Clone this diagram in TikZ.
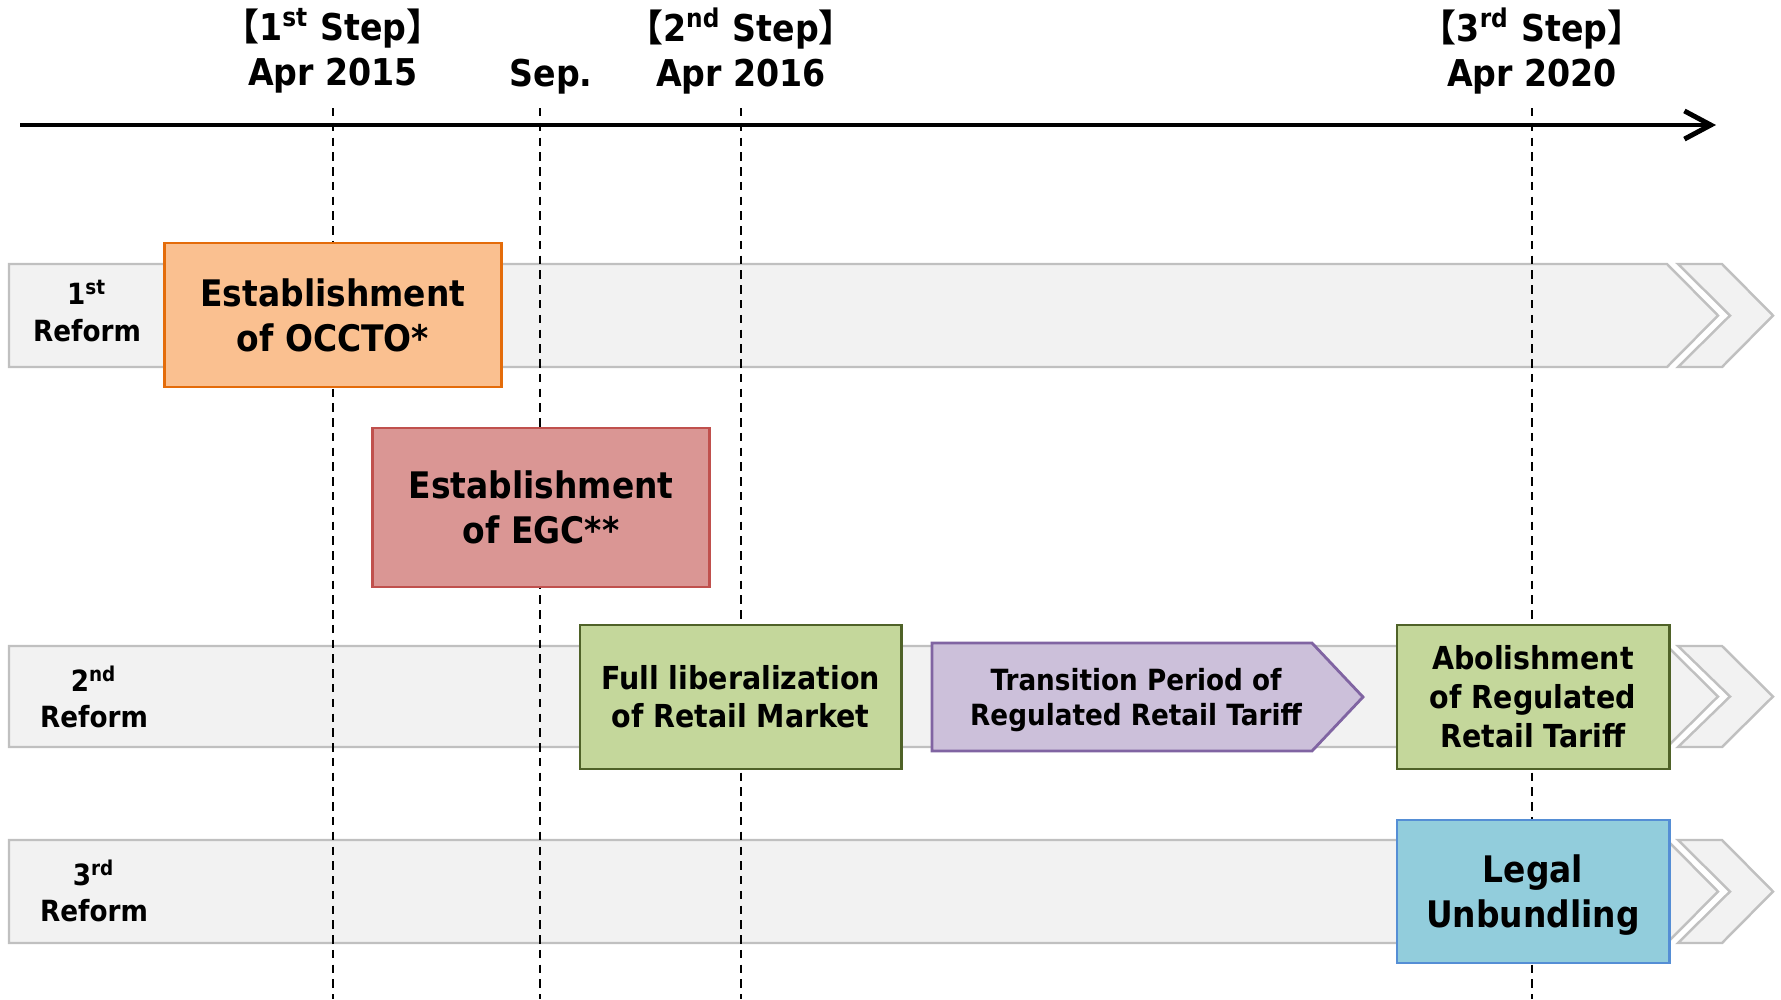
\documentclass[tikz,border=0pt]{standalone}
\usepackage{fontspec}
\setmainfont{DejaVu Sans}[FakeStretch=0.9]
\newfontfamily\cjk{Noto Sans CJK JP}
\usetikzlibrary{arrows.meta}
\definecolor{bandfill}{HTML}{F2F2F2}
\definecolor{banddraw}{HTML}{C0C0C0}
\definecolor{occtofill}{HTML}{FAC090}
\definecolor{occtodraw}{HTML}{E46C0A}
\definecolor{egcfill}{HTML}{DA9694}
\definecolor{egcdraw}{HTML}{C0504D}
\definecolor{greenfill}{HTML}{C4D79B}
\definecolor{greendraw}{HTML}{4F6228}
\definecolor{purplefill}{HTML}{CCC0DA}
\definecolor{purpledraw}{HTML}{8064A2}
\definecolor{bluefill}{HTML}{92CDDC}
\definecolor{bluedraw}{HTML}{558ED5}
\tikzset{
  band/.style={fill=bandfill,draw=banddraw,line width=0.7pt,line join=miter},
  stepline/.style={dash pattern=on 2.4pt off 1.8pt,line width=0.7pt},
  box/.style={draw,line width=0.8pt,align=center,inner sep=0pt},
  bigtext/.style={font=\fontsize{10.4}{12.8}\selectfont\bfseries},
  midtext/.style={font=\fontsize{9}{10.8}\selectfont\bfseries},
  smalltext/.style={font=\fontsize{8.3}{10}\selectfont\bfseries},
  rowlabel/.style={align=center,font=\fontsize{8.3}{10.3}\selectfont\bfseries},
  steplabel/.style={align=center,font=\fontsize{10.5}{12.8}\selectfont\bfseries},
}
\newcommand{\lb}{{\cjk\bfseries 【}}
\newcommand{\rb}{{\cjk\bfseries 】}}
\begin{document}
\begin{tikzpicture}[x=0.01cm,y=-0.01cm]
\useasboundingbox (0,0) rectangle (1781,999);
% reform bands
\foreach \t/\b/\m in {264/367/315.5,646/747/696.5,840/943/891.5}{
  \draw[band] (9,\t) -- (1667,\t) -- (1718,\m) -- (1667,\b) -- (9,\b) -- cycle;
  \draw[band] (1678,\t) -- (1722,\t) -- (1773,\m) -- (1722,\b) -- (1678,\b) -- (1730,\m) -- cycle;
}
\node[rowlabel] (ref1) at (87,311) {1\textsuperscript{st}\\Reform};
\node[rowlabel] (ref2) at (94,697) {2\textsuperscript{nd}\\Reform};
\node[rowlabel] (ref3) at (94,891) {3\textsuperscript{rd}\\Reform};
% steps
\foreach \x/\n in {333/a,540/b,741/c,1532/d}{
  \coordinate (top\n) at (\x,108);
  \coordinate (bot\n) at (\x,999);
  \draw[stepline] (top\n) -- (bot\n);
}
\coordinate (tlstart) at (20,125);
\coordinate (tlend) at (1716,125);
\draw[line width=1.4pt,-{Straight Barb[length=7.5pt,width=8pt]}] (tlstart) -- (tlend);
\node[steplabel] (step1) at (333,51) {\lb 1\textsuperscript{st} Step\rb\\Apr 2015};
\node[steplabel] (sep) at (551,76.5) {Sep.};
\node[steplabel] (step2) at (741,51) {\lb 2\textsuperscript{nd} Step\rb\\Apr 2016};
\node[steplabel] (step3) at (1532,51) {\lb 3\textsuperscript{rd} Step\rb\\Apr 2020};
% events
\node[box,bigtext,fill=occtofill,draw=occtodraw,minimum width=3.36cm,minimum height=1.44cm] (occto) at (333,315) {Establishment\\of OCCTO*};
\node[box,bigtext,fill=egcfill,draw=egcdraw,minimum width=3.36cm,minimum height=1.59cm] (egc) at (541,507.5) {Establishment\\of EGC**};
\node[box,midtext,fill=greenfill,draw=greendraw,minimum width=3.21cm,minimum height=1.44cm] (retail) at (740.5,697) {Full liberalization\\of Retail Market};
\draw[fill=purplefill,draw=purpledraw,line width=0.8pt] (932,643) -- (1312,643) -- (1363,697) -- (1312,751) -- (932,751) -- cycle;
\node[align=center,smalltext] (trans) at (1136,700) {Transition Period of\\Regulated Retail Tariff};
\node[box,midtext,font=\fontsize{9}{11.1}\selectfont\bfseries,fill=greenfill,draw=greendraw,minimum width=2.72cm,minimum height=1.44cm] (abol) at (1533,697) {Abolishment\\of Regulated\\Retail Tariff};
\node[box,bigtext,text depth=0pt,fill=bluefill,draw=bluedraw,minimum width=2.72cm,minimum height=1.43cm] (legal) at (1533,891.5) {Legal\\Unbundling};
\end{tikzpicture}
\end{document}
